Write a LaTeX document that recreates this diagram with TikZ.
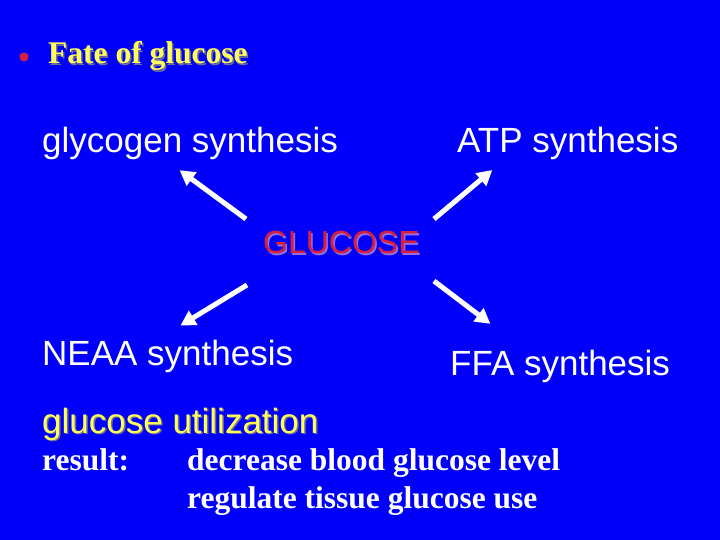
\documentclass[tikz,border=0pt]{standalone}
\usepackage{fontspec}
\setmainfont{Liberation Serif}
\newfontfamily\arialfont{Liberation Sans}
\usepackage{tikz}
\usetikzlibrary{positioning}
\usetikzlibrary{arrows.meta}
\definecolor{slideblue}{RGB}{0,0,250}
\definecolor{slideyellow}{RGB}{255,255,90}
\definecolor{slidered}{RGB}{215,30,60}
\definecolor{shadowgrey}{RGB}{110,110,150}
\definecolor{shadowpurple}{RGB}{150,110,220}
% text with a soft drop shadow
\newcommand{\dropshadow}[2]{\makebox[0pt][l]{\kern1.5pt\raisebox{-1.5pt}{\textcolor{#1}{#2}}}#2}

\begin{document}
\begin{tikzpicture}[x=1pt,y=-1pt,
							txt/.style={anchor=base west, inner sep=0pt, text=white, font=\arialfont\fontsize{35}{40}\selectfont},
							serif/.style={anchor=base west, inner sep=0pt, text=white, font=\bfseries\fontsize{31.5}{36}\selectfont},
							fatearrow/.style={draw=white, line width=5pt, -{Triangle[length=15pt,width=16pt]}, shorten >=-3pt},
							]
							\fill[slideblue] (0,0) rectangle (720,540);
							\useasboundingbox (0,0) rectangle (720,540);
							%Title
							\fill[slidered] (24,57) circle (4.5);
							\node[serif, text=slideyellow]  (title)   at  (48,64)      {\dropshadow{shadowgrey}{Fate of glucose}};
							%Nodes
							\node[txt]      (glycogen)  at  (42,153)   {glycogen synthesis};
							\node[txt]      (atp)       at  (457,153)  {ATP synthesis};
							\node[txt, text=slidered, font=\arialfont\fontsize{32}{38}\selectfont] (glucose) at (263,254) {\dropshadow{shadowpurple}{GLUCOSE}};
							\node[txt]      (neaa)      at  (42,365)   {NEAA synthesis};
							\node[txt]      (ffa)       at  (450,375)  {FFA synthesis};
							\node[txt, text=slideyellow]  (util)     at (42,433)  {\dropshadow{shadowgrey}{glucose utilization}};
							\node[serif]    (result)    at  (42,470)   {result:};
							\node[serif]    (effect1)   at  (187,470)  {decrease blood glucose level};
							\node[serif]    (effect2)   at  (187,508)  {regulate tissue glucose use};
							%Arrow ends
							\coordinate (g1) at (246,219);
							\coordinate (g2) at (434,219);
							\coordinate (g3) at (247,285);
							\coordinate (g4) at (434,281);
							\coordinate (t1) at (182,172);
							\coordinate (t2) at (490,172);
							\coordinate (t3) at (183,324);
							\coordinate (t4) at (488,322);
							%Lines
							\draw[fatearrow] (g1) -- (t1);
							\draw[fatearrow] (g2) -- (t2);
							\draw[fatearrow] (g3) -- (t3);
							\draw[fatearrow] (g4) -- (t4);
\end{tikzpicture}
\end{document}
